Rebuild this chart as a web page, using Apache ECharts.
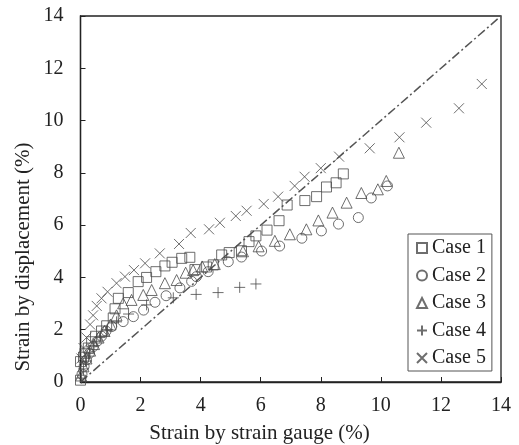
<!DOCTYPE html>
<html><head><meta charset="utf-8">
<script src="https://cdn.jsdelivr.net/npm/echarts@6/dist/echarts.min.js"></script>
<style>html,body{margin:0;padding:0;background:#fff}#c{width:519px;height:445px}</style>
</head><body><div id="c"></div>
<script>
const seriesNames = ['Case 1','Case 2','Case 3','Case 4','Case 5'];
const xTitle = 'Strain by strain gauge (%)';
const yTitle = 'Strain by displacement (%)';

const x1 = [0.0,0.0,0.1,0.15,0.26,0.37,0.5,0.7,0.87,1.09,1.15,1.26,1.59,1.92,2.2,2.51,2.81,3.05,3.37,3.64,3.81,4.2,4.42,4.70,4.95,5.36,5.61,5.84,6.21,6.61,6.88,7.47,7.86,8.19,8.51,8.75];
const y1 = [0.07,0.78,0.95,1.1,1.3,1.54,1.75,1.95,2.15,2.45,2.8,3.2,3.42,3.84,4.0,4.22,4.44,4.58,4.73,4.77,4.3,4.4,4.48,4.86,4.95,5.02,5.37,5.59,5.81,6.17,6.77,6.94,7.09,7.46,7.62,7.96];

const x2 = [0.05,0.12,0.2,0.3,0.42,0.55,0.7,0.85,1.04,1.42,1.76,2.1,2.48,2.85,3.31,3.7,3.86,4.25,4.92,5.36,6.03,6.63,7.37,8.02,8.59,9.25,9.68,10.22];
const y2 = [0.3,0.6,0.85,1.1,1.35,1.55,1.75,1.95,2.12,2.31,2.5,2.75,3.05,3.3,3.6,3.85,4.03,4.22,4.6,4.78,5.01,5.2,5.5,5.78,6.04,6.29,7.04,7.5];

const x3 = [0.02,0.1,0.2,0.32,0.45,0.6,0.8,1.0,1.2,1.42,1.7,2.09,2.37,2.81,3.2,3.5,3.75,4.05,4.47,5.41,5.93,6.47,6.97,7.52,7.92,8.39,8.86,9.35,9.9,10.18,10.6];
const y3 = [0.25,0.6,0.9,1.2,1.45,1.7,1.95,2.2,2.55,3.01,3.14,3.33,3.52,3.78,3.9,4.18,4.28,4.42,4.51,5.0,5.19,5.4,5.65,5.84,6.18,6.48,6.86,7.23,7.37,7.69,8.77];

const x4 = [0.03,0.1,0.2,0.3,0.45,0.65,0.9,1.2,1.6,2.2,3.09,3.85,4.58,5.3,5.84];
const y4 = [0.15,0.5,0.8,1.1,1.4,1.7,2.0,2.3,2.6,2.95,3.22,3.35,3.42,3.62,3.75];

const x5 = [0.03,0.1,0.2,0.32,0.42,0.54,0.7,0.9,1.2,1.48,1.78,2.15,2.64,3.28,3.67,4.28,4.64,5.17,5.53,6.1,6.58,7.13,7.46,8.0,8.61,9.63,10.62,11.51,12.6,13.36];
const y5 = [0.9,1.3,1.7,2.2,2.55,2.91,3.2,3.45,3.78,4.03,4.28,4.54,4.92,5.28,5.7,5.84,6.09,6.35,6.55,6.81,7.09,7.5,7.85,8.18,8.62,8.94,9.36,9.92,10.47,11.4];

const refLineX = [0,14];
const refLineY = [0,14];

const zip = (a,b) => a.map((v,i)=>[v,b[i]]);
const FONT = 'Liberation Serif';
const MC = '#4a4a4a';
const symbols = ['rect','circle','triangle','path://M5,0L5,10M0,5L10,5','path://M0,0L10,10M10,0L0,10'];
const sizes = [10,10,11,11,10];
const xs = [x1,x2,x3,x4,x5], ys = [y1,y2,y3,y4,y5];

const series = seriesNames.map((n,i)=>({
  name:n, type:'scatter', data: zip(xs[i],ys[i]),
  symbol: symbols[i], symbolSize: sizes[i],
  itemStyle:{color:'transparent', borderColor:MC, borderWidth:1},
  emphasis:{disabled:true}, z:3
}));
series.push({
  name:'ref', type:'line', data: zip(refLineX, refLineY), symbol:'none',
  lineStyle:{color:'#555', width:1.5, type:[9,3,2,3]}, z:2, silent:true
});

const chart = echarts.init(document.getElementById('c'), null, {renderer:'canvas'});
chart.setOption({
  animation:false,
  backgroundColor:'#fff',
  grid:{left:80.5, top:16, right:18, bottom:63, show:true, borderColor:'#222', borderWidth:1.3},
  xAxis:{type:'value', min:0, max:14, interval:2,
    axisLine:{show:true, lineStyle:{color:'#222', width:1.3}},
    axisTick:{show:true, inside:true, length:5, lineStyle:{color:'#222'}},
    splitLine:{show:false},
    axisLabel:{fontFamily:FONT, fontSize:20, color:'#222', margin:14}},
  yAxis:{type:'value', min:0, max:14, interval:2,
    axisLine:{show:true, lineStyle:{color:'#222', width:1.3}},
    axisTick:{show:true, inside:true, length:5, lineStyle:{color:'#222'}},
    splitLine:{show:false},
    axisLabel:{fontFamily:FONT, fontSize:20, color:'#222', margin:17}},
  legend:{
    data: seriesNames, orient:'vertical', left:408, top:234,
    width:85, padding:[4,6,3,8], itemGap:7.5, itemWidth:10, itemHeight:10,
    borderColor:'#555', borderWidth:1, backgroundColor:'#fff',
    textStyle:{fontFamily:FONT, fontSize:20, color:'#222', lineHeight:20, padding:[0,0,0,0]},
    selectedMode:false
  },
  graphic:[
    {type:'text', left:'center', x:0, style:{text:xTitle, font:'21px "Liberation Serif"', fill:'#222', textAlign:'center', textVerticalAlign:'middle', x:286, y:433}},
    {type:'text', rotation:Math.PI/2, x:23, y:257, style:{text:yTitle, font:'21px "Liberation Serif"', fill:'#222', textAlign:'center', textVerticalAlign:'middle'}}
  ],
  series: series
});
</script></body></html>
